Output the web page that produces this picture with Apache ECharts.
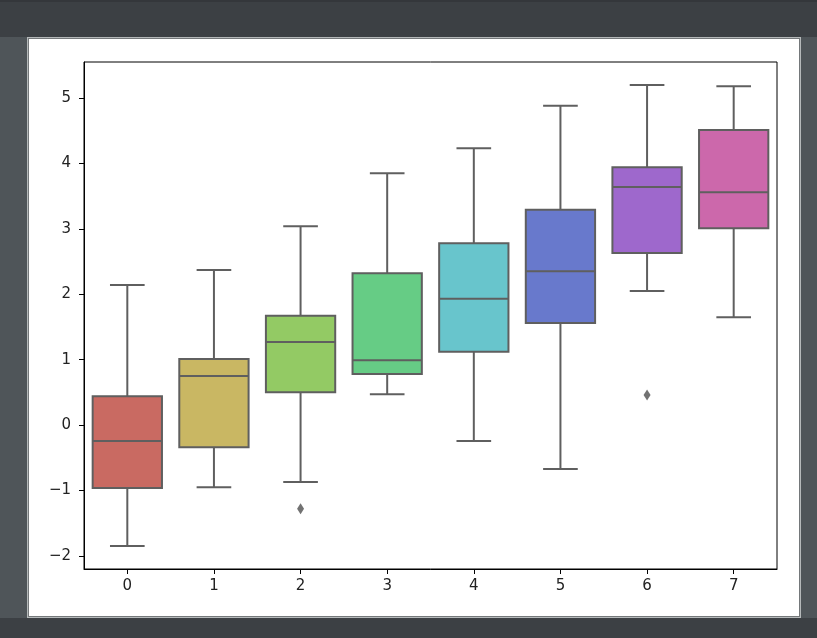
<!DOCTYPE html>
<html>
<head>
<meta charset="utf-8">
<script src="https://cdn.jsdelivr.net/npm/echarts@6/dist/echarts.min.js"></script>
<style>
  html, body { margin: 0; padding: 0; width: 817px; height: 638px; overflow: hidden; background: #4f5559; }
  #topband { position: absolute; left: 0; top: 0; width: 817px; height: 37px; background: #3c4044; border-top: 2px solid #34373b; box-sizing: border-box; }
  #botband { position: absolute; left: 0; top: 618px; width: 817px; height: 20px; background: #3c4044; }
  #panel { position: absolute; left: 27px; top: 37px; width: 774px; height: 581px; background: #fff; border: 1px solid #b5b9ba; box-shadow: inset 0 0 0 1px #74787a; box-sizing: border-box; }
  #chart { position: absolute; left: 0; top: 0; width: 817px; height: 638px; }
</style>
</head>
<body>
<div id="topband"></div>
<div id="botband"></div>
<div id="panel"></div>
<div id="chart"></div>
<script>
const categories = ['0', '1', '2', '3', '4', '5', '6', '7'];
const lowWhisker  = [-1.85, -0.95, -0.87, 0.47, -0.245, -0.67, 2.05, 1.65];
const q1          = [-0.96, -0.34, 0.50, 0.78, 1.12, 1.56, 2.63, 3.01];
const median      = [-0.245, 0.75, 1.27, 0.99, 1.93, 2.35, 3.64, 3.56];
const q3          = [0.44, 1.01, 1.67, 2.32, 2.78, 3.29, 3.94, 4.51];
const highWhisker = [2.14, 2.37, 3.04, 3.85, 4.23, 4.88, 5.20, 5.18];
const outlierCats = ['2', '6'];
const outlierVals = [-1.28, 0.46];
const yTicks = [-2, -1, 0, 1, 2, 3, 4, 5];

const boxColors = ['#c96a62', '#c9b763', '#93ca64', '#66cc85', '#68c5cc', '#6879cc', '#9e68cc', '#cc68ab'];
const edge = '#5f5f5f';

const boxData = categories.map((c, i) => [i, lowWhisker[i], q1[i], median[i], q3[i], highWhisker[i]]);
const outlierData = outlierCats.map((c, i) => [c, outlierVals[i]]);

function renderBox(params, api) {
  const i = api.value(0);
  const band = api.size([1, 0])[0];
  const bw = band * 0.8;
  const cw = bw * 0.5;
  const pLow = api.coord([i, api.value(1)]);
  const pQ1 = api.coord([i, api.value(2)]);
  const pMed = api.coord([i, api.value(3)]);
  const pQ3 = api.coord([i, api.value(4)]);
  const pHigh = api.coord([i, api.value(5)]);
  const x = pQ1[0];
  const ls = { stroke: edge, lineWidth: 2 };
  return {
    type: 'group',
    children: [
      { type: 'line', shape: { x1: x, y1: pQ1[1], x2: x, y2: pLow[1] }, style: ls },
      { type: 'line', shape: { x1: x, y1: pQ3[1], x2: x, y2: pHigh[1] }, style: ls },
      { type: 'line', shape: { x1: x - cw / 2, y1: pLow[1], x2: x + cw / 2, y2: pLow[1] }, style: ls },
      { type: 'line', shape: { x1: x - cw / 2, y1: pHigh[1], x2: x + cw / 2, y2: pHigh[1] }, style: ls },
      { type: 'rect', shape: { x: x - bw / 2, y: pQ3[1], width: bw, height: pQ1[1] - pQ3[1] },
        style: { fill: boxColors[i], stroke: edge, lineWidth: 2 } },
      { type: 'line', shape: { x1: x - bw / 2, y1: pMed[1], x2: x + bw / 2, y2: pMed[1] }, style: ls }
    ]
  };
}

const chart = echarts.init(document.getElementById('chart'), null, { renderer: 'canvas' });
const fontFamily = 'DejaVu Sans';
chart.setOption({
  backgroundColor: 'transparent',
  animation: false,
  grid: { left: 84, top: 62, width: 693, height: 507, show: true, borderColor: '#000', borderWidth: 1, backgroundColor: 'transparent' },
  xAxis: {
    type: 'category',
    data: categories,
    boundaryGap: true,
    axisLine: { show: true, onZero: false, lineStyle: { color: '#000', width: 1 } },
    axisTick: { show: true, alignWithLabel: true, length: 5, lineStyle: { color: '#000', width: 1 } },
    axisLabel: { color: '#222', fontFamily: fontFamily, fontSize: 15, margin: 10 },
    splitLine: { show: false }
  },
  yAxis: {
    type: 'value',
    min: -2.2,
    max: 5.55,
    interval: 1,
    axisLine: { show: true, onZero: false, lineStyle: { color: '#000', width: 1 } },
    axisTick: { show: true, length: 5, lineStyle: { color: '#000', width: 1 },
      customValues: yTicks },
    axisLabel: { color: '#222', fontFamily: fontFamily, fontSize: 15, margin: 13,
      customValues: yTicks,
      formatter: v => (v < 0 ? '\u2212' + Math.abs(v) : String(v)) },
    splitLine: { show: false }
  },
  series: [
    {
      type: 'custom',
      renderItem: renderBox,
      data: boxData,
      encode: { x: 0, y: [1, 2, 3, 4, 5] },
      z: 2
    },
    {
      type: 'scatter',
      data: outlierData,
      symbol: 'diamond',
      symbolSize: [7, 11],
      itemStyle: { color: '#4f4f4f', borderWidth: 0 },
      z: 3
    }
  ]
});
</script>
</body>
</html>
